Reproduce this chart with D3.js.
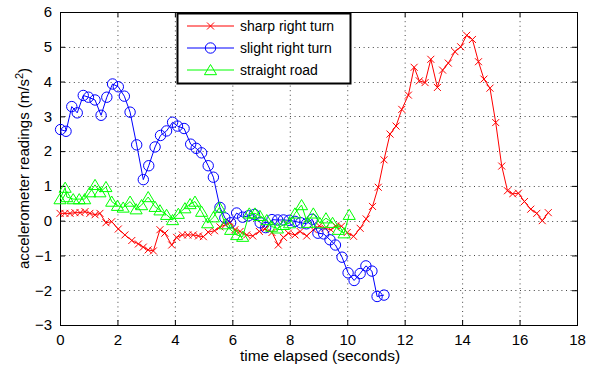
<!DOCTYPE html>
<html>
<head>
<meta charset="utf-8">
<script src="https://cdn.jsdelivr.net/npm/d3@7"></script>
<style>
  html, body { margin: 0; padding: 0; background: #fff; }
  svg { display: block; }
  text { font-family: "Liberation Sans", Arial, Helvetica, sans-serif; fill: #000; }
</style>
</head>
<body>
<svg id="chart" width="591" height="371"></svg>
<script>
// ---------------- data ----------------
const xTicks = [0, 2, 4, 6, 8, 10, 12, 14, 16, 18];
const yTicks = [-3, -2, -1, 0, 1, 2, 3, 4, 5, 6];
const seriesNames = ["sharp right turn", "slight right turn", "straight road"];

const sharpTime = [0.00,0.17,0.35,0.52,0.70,0.87,1.04,1.22,1.39,1.60,1.80,2.03,2.26,2.50,2.73,2.90,3.07,3.25,3.48,3.65,3.89,4.06,4.26,4.45,4.64,4.82,4.99,5.16,5.38,5.57,5.76,5.92,6.09,6.27,6.50,6.71,6.94,7.14,7.38,7.60,7.78,7.95,8.18,8.36,8.59,8.82,9.03,9.23,9.43,9.60,9.80,10.00,10.22,10.45,10.66,10.88,11.08,11.28,11.49,11.70,11.90,12.13,12.33,12.51,12.71,12.91,13.14,13.32,13.52,13.75,13.95,14.16,14.36,14.57,14.76,14.97,15.17,15.38,15.58,15.76,15.96,16.17,16.39,16.60,16.79,17.00];
const sharpValue = [0.21,0.21,0.21,0.23,0.23,0.26,0.21,0.17,0.21,-0.06,-0.03,-0.24,-0.41,-0.57,-0.67,-0.76,-0.84,-0.87,-0.26,-0.36,-0.70,-0.48,-0.41,-0.41,-0.41,-0.44,-0.46,-0.33,-0.29,-0.18,-0.12,-0.05,-0.26,-0.31,-0.41,-0.44,-0.31,-0.24,-0.34,-0.70,-0.48,-0.36,-0.41,-0.31,-0.44,-0.26,-0.15,-0.22,-0.26,-0.15,-0.16,-0.34,-0.45,-0.22,0.05,0.41,0.96,1.75,2.49,2.72,3.20,3.61,4.41,4.02,3.97,4.64,3.83,4.33,4.53,4.86,5.00,5.33,5.21,4.57,4.07,3.81,2.82,1.57,0.86,0.77,0.79,0.55,0.33,0.21,0.00,0.23];

const slightTime = [0.02,0.21,0.41,0.60,0.81,0.99,1.22,1.43,1.63,1.83,2.03,2.24,2.44,2.67,2.90,3.09,3.31,3.50,3.71,3.92,4.09,4.32,4.55,4.74,4.93,5.16,5.34,5.57,5.74,5.94,6.15,6.36,6.56,6.77,6.97,7.16,7.38,7.58,7.78,7.98,8.18,8.38,8.58,8.78,8.98,9.18,9.40,9.59,9.82,10.03,10.24,10.45,10.65,10.86,11.04,11.28];
const slightValue = [2.62,2.57,3.28,3.10,3.60,3.55,3.47,3.03,3.55,3.93,3.85,3.58,3.12,2.18,1.18,1.58,2.12,2.45,2.58,2.83,2.72,2.65,2.20,2.08,1.95,1.58,1.25,0.38,0.08,-0.06,0.22,0.10,0.14,0.18,-0.06,-0.20,0.03,0.02,0.02,0.01,-0.02,-0.06,-0.09,0.04,-0.36,-0.38,-0.55,-0.70,-1.05,-1.50,-1.72,-1.52,-1.30,-1.45,-2.18,-2.14];

const straightTime = [0.00,0.18,0.24,0.46,0.67,0.86,1.04,1.22,1.39,1.60,1.80,2.00,2.20,2.44,2.65,2.84,3.07,3.31,3.48,3.71,3.92,4.12,4.35,4.53,4.70,4.93,5.14,5.34,5.55,5.75,5.94,6.15,6.36,6.59,6.79,6.96,7.20,7.37,7.57,7.78,7.99,8.18,8.41,8.61,8.82,9.05,9.26,9.49,9.69,9.89,10.07];
const straightValue = [0.62,0.95,0.68,0.62,0.62,0.62,0.82,1.03,0.82,0.97,0.55,0.43,0.38,0.55,0.33,0.45,0.68,0.40,0.30,0.17,0.02,0.20,0.36,0.48,0.55,0.26,-0.07,0.10,0.38,-0.10,-0.26,-0.41,-0.46,0.21,0.21,0.14,0.02,-0.17,-0.22,-0.12,-0.07,0.21,0.45,-0.06,0.21,-0.07,0.07,-0.06,-0.26,-0.36,0.17];

// ---------------- layout ----------------
const svg = d3.select("#chart");
const L = 60, R = 577, T = 12, B = 325;
const x = d3.scaleLinear().domain([0, 18]).range([L, R]);
const y = d3.scaleLinear().domain([-3, 6]).range([B, T]);
const fmt = d => d3.format("")(d);

// grid
const grid = svg.append("g");
grid.selectAll("line.gx").data(xTicks.slice(1, -1)).join("line")
  .attr("x1", d => x(d) + 0.5).attr("x2", d => x(d) + 0.5)
  .attr("y1", T).attr("y2", B)
  .attr("stroke", "#444").attr("stroke-width", 1).attr("stroke-dasharray", "1,3.6");
grid.selectAll("line.gy").data(yTicks.slice(1, -1)).join("line")
  .attr("y1", d => Math.round(y(d)) + 0.5).attr("y2", d => Math.round(y(d)) + 0.5)
  .attr("x1", L).attr("x2", R)
  .attr("stroke", "#444").attr("stroke-width", 1).attr("stroke-dasharray", "1,3.6");

// axes
const ax = svg.append("g").attr("transform", `translate(0,${B})`)
  .call(d3.axisBottom(x).tickValues(xTicks).tickSizeInner(-5).tickSizeOuter(0).tickPadding(8).tickFormat(fmt));
const axTop = svg.append("g").attr("transform", `translate(0,${T})`)
  .call(d3.axisTop(x).tickValues(xTicks).tickSizeInner(-5).tickSizeOuter(0).tickFormat(""));
const ay = svg.append("g").attr("transform", `translate(${L},0)`)
  .call(d3.axisLeft(y).tickValues(yTicks).tickSizeInner(-5).tickSizeOuter(0).tickPadding(8).tickFormat(fmt));
const ayR = svg.append("g").attr("transform", `translate(${R},0)`)
  .call(d3.axisRight(y).tickValues(yTicks).tickSizeInner(-5).tickSizeOuter(0).tickFormat(""));
[ax, axTop, ay, ayR].forEach(g => {
  g.select(".domain").remove();
  g.selectAll("text").style("font-size", "15px").attr("fill", "#000");
  g.selectAll("line").attr("stroke", "#000");
});
ax.selectAll("text").attr("dy", "0.8em");

svg.append("rect").attr("x", L + 0.5).attr("y", T + 0.5)
  .attr("width", R - L).attr("height", B - T)
  .attr("fill", "none").attr("stroke", "#000").attr("stroke-width", 1);

// axis titles
svg.append("text").attr("x", 320).attr("y", 361)
  .attr("text-anchor", "middle").style("font-size", "15.5px")
  .text("time elapsed (seconds)");
const yt = svg.append("text").attr("transform", `translate(29,${(T + B) / 2}) rotate(-90)`)
  .attr("text-anchor", "middle").style("font-size", "15px");
yt.append("tspan").text("accelerometer readings (m/s");
yt.append("tspan").attr("dy", "-6").style("font-size", "11px").text("2");
yt.append("tspan").attr("dy", "6").text(")");

// series
const series = [
  { name: seriesNames[0], t: sharpTime, v: sharpValue, color: "#ff0000", marker: "x" },
  { name: seriesNames[1], t: slightTime, v: slightValue, color: "#0000ff", marker: "o" },
  { name: seriesNames[2], t: straightTime, v: straightValue, color: "#00ff00", marker: "^" }
];

function drawMarker(g, type, color, cx, cy) {
  if (type === "x") {
    const s = 3.5;
    g.append("path").attr("d", `M${cx - s},${cy - s}L${cx + s},${cy + s}M${cx - s},${cy + s}L${cx + s},${cy - s}`)
      .attr("stroke", color).attr("stroke-width", 1).attr("fill", "none");
  } else if (type === "o") {
    g.append("circle").attr("cx", cx).attr("cy", cy).attr("r", 5.2)
      .attr("stroke", color).attr("stroke-width", 1).attr("fill", "none");
  } else {
    const h = 5.5;
    g.append("path").attr("d", `M${cx},${cy - h}L${cx + h * 1.1},${cy + h * 0.85}L${cx - h * 1.1},${cy + h * 0.85}Z`)
      .attr("stroke", color).attr("stroke-width", 1).attr("fill", "none");
  }
}

const plot = svg.append("g");
series.forEach(s => {
  const pts = s.t.map((t, i) => [t, s.v[i]]);
  const g = plot.append("g");
  g.append("path").datum(pts)
    .attr("d", d3.line().x(d => x(d[0])).y(d => y(d[1])))
    .attr("fill", "none").attr("stroke", s.color).attr("stroke-width", 1);
  pts.forEach(p => drawMarker(g, s.marker, s.color, x(p[0]), y(p[1])));
});

// legend
const lg = svg.append("g");
lg.append("rect").attr("x", 177.5).attr("y", 13.5).attr("width", 173).attr("height", 70)
  .attr("fill", "#fff").attr("stroke", "#000").attr("stroke-width", 2);
series.forEach((s, i) => {
  const ly = 26 + i * 22;
  lg.append("line").attr("x1", 187).attr("x2", 234).attr("y1", ly).attr("y2", ly)
    .attr("stroke", s.color).attr("stroke-width", 1);
  drawMarker(lg, s.marker, s.color, 210.5, ly);
  lg.append("text").attr("x", 240).attr("y", ly + 5).style("font-size", "14px").text(s.name);
});
</script>
</body>
</html>
